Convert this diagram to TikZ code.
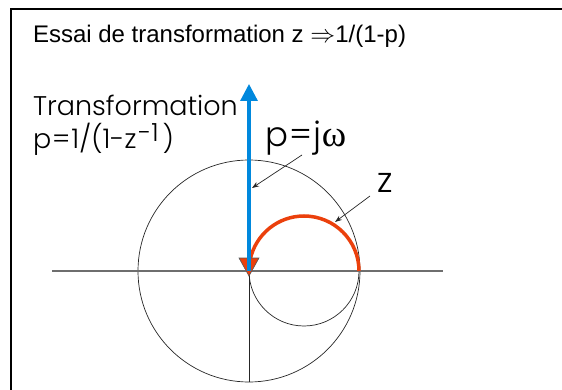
\documentclass[tikz,border=0pt]{standalone}
\usepackage{fontspec}
\setmainfont{Liberation Sans}
\newfontfamily\gothic{Poppins}[UprightFont={* Light}]
\newfontfamily\greek{Liberation Serif}
\usetikzlibrary{arrows.meta}
\definecolor{jblue}{RGB}{0,136,221}
\definecolor{zred}{RGB}{235,64,12}
\definecolor{axisgray}{RGB}{110,110,110}
\tikzset{
  lbl/.style={anchor=base west, inner sep=0pt, outer sep=0pt},
  circ/.style={draw=black!85, line width=0.7pt},
  pointer/.style={draw=black!85, line width=0.7pt, -{Stealth[length=7pt,width=5pt]}},
  redhead/.style={fill=zred, draw=black!65, line width=0.6pt, line join=miter},
}
\begin{document}
\begin{tikzpicture}[x=1pt,y=-1pt]
\useasboundingbox (0,0) rectangle (562,390);
% frame
\draw[line width=2pt] (11,391) -- (11,9) -- (563,9);
% title
\node[lbl, font=\fontsize{24}{27}\selectfont] (title) at (33,43) {Essai de transformation z $\Rightarrow$1/(1-p)};
% left labels
\node[lbl, font=\gothic\fontsize{27}{30}\selectfont] (trans) at (33,116) {Transformation};
\node[lbl, font=\gothic\fontsize{27}{30}\selectfont] (pz) at (33,149) {p\kern1pt=\kern1pt1/(1-z\kern2pt\raisebox{7pt}{\fontsize{25}{25}\selectfont -1}\kern4pt)};
% circles and axes
\draw[circ] (249,271) circle[radius=111pt];
\draw[circ] (304,271) circle[radius=55pt];
\draw[draw=axisgray, line width=1.2pt] (52,271) -- (443,271);
\coordinate (O) at (249,271);
\coordinate (B) at (249,382);
\coordinate (T) at (249,84);
\coordinate (R) at (359,271);
\draw[circ] (O) -- (B);
% red arc with its head
\draw[zred, line width=3.5pt] (R) arc[start angle=0, end angle=168, radius=55pt];
\filldraw[redhead] (239,258) -- (259,258) -- (249,276) -- cycle;
% blue arrow
\draw[jblue, line width=3.2pt, -{Triangle[length=17pt,width=17pt]}] (O) -- (T);
% labels with pointers
\node[lbl, font=\gothic\fontsize{34}{36}\selectfont] (pj) at (265,147) {p\kern1.5pt=\kern1.5pt j{\greek\fontsize{37}{37}\selectfont ω}};
\node[lbl, font=\gothic\fontsize{35}{36}\selectfont] (zl) at (377,193) {z};
\coordinate (pjs) at (302,155);
\coordinate (pje) at (252,188);
\coordinate (zs) at (370,196);
\coordinate (ze) at (335,222);
\draw[pointer] (pjs) -- (pje);
\draw[pointer] (zs) -- (ze);
\end{tikzpicture}
\end{document}
